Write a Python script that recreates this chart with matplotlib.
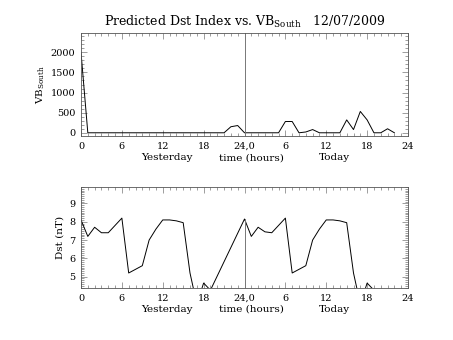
import matplotlib
matplotlib.use("Agg")
import matplotlib.pyplot as plt
import numpy as np

plt.rcParams['font.family'] = ['DejaVu Serif']
plt.rcParams['mathtext.fontset'] = 'dejavuserif'

# hours since start of yesterday (0..48)
vb_hours = list(range(0, 47))
vb_south = [2000, 0, 0, 0, 0, 0, 0, 0, 0, 0, 0, 0, 0, 0, 0, 0, 0, 0, 0, 0, 0, 0,
            150, 180, 0, 0, 0, 0, 0, 0, 280, 280, 0, 20, 80, 0, 0, 0, 0, 320,
            80, 530, 320, 0, 0, 100, 0]

dst_hours = list(range(0, 20)) + list(range(24, 44))
dst = [8.1, 7.2, 7.7, 7.4, 7.4, 7.8, 8.2, 5.2, 5.4, 5.6, 7.0, 7.6, 8.1, 8.1,
       8.05, 7.95, 5.2, 3.5, 4.65, 4.26,
       8.15, 7.2, 7.7, 7.45, 7.4, 7.8, 8.2, 5.2, 5.4, 5.6, 7.0, 7.6, 8.1, 8.1,
       8.05, 7.95, 5.2, 3.5, 4.65, 4.26]

xtick_pos = [0, 6, 12, 18, 24, 30, 36, 42, 48]
xtick_labels = ['0', '6', '12', '18', '24,0', '6', '12', '18', '24']
day_labels = ['Yesterday', 'time (hours)', 'Today']
day_pos = [12.6, 25.0, 37.2]

W, H = 453, 340
fig = plt.figure(figsize=(W / 100, H / 100), dpi=100)


def px_axes(left, top, right, bottom):
    return fig.add_axes([left / W, 1 - bottom / H, (right - left) / W, (bottom - top) / H])


def style(ax, ymajor, yminor):
    ax.set_xlim(0, 48)
    ax.set_xticks(xtick_pos)
    ax.set_xticklabels(xtick_labels)
    ax.set_xticks(np.arange(0, 49, 1), minor=True)
    ax.set_yticks(ymajor)
    ax.set_yticks(yminor, minor=True)
    ax.tick_params(which='both', direction='in', top=True, right=True,
                   labelsize=7, width=0.5, color='#777777', pad=4)
    ax.tick_params(which='major', length=4)
    ax.tick_params(which='minor', length=2)
    for s in ax.spines.values():
        s.set_linewidth(0.6)
        s.set_color('#555555')
    for x, t in zip(day_pos, day_labels):
        ax.text(x, -0.21, t, transform=ax.get_xaxis_transform(), ha='center',
                va='center', fontsize=7.5)


ax1 = px_axes(81, 33, 408, 136)
ax1.plot(vb_hours, vb_south, color='black', lw=0.7)
ax1.set_ylim(-80, 2480)
ax1.axvline(24, color='#777777', lw=0.7)
style(ax1, [0, 500, 1000, 1500, 2000], np.arange(0, 2401, 100))
ax1.set_ylabel(r'VB$_{\mathrm{South}}$', fontsize=7.5, labelpad=3)
ax1.set_title(r'Predicted Dst Index vs. VB$_{\mathrm{South}}$   12/07/2009',
              fontsize=9, pad=5)

ax2 = px_axes(81, 187, 408, 288)
ax2.plot(dst_hours, dst, color='black', lw=0.7)
ax2.set_ylim(4.38, 9.9)
ax2.plot([24, 24], [4.38, 8.15], color='#777777', lw=0.7)
style(ax2, [5, 6, 7, 8, 9], np.arange(4.4, 9.91, 0.1))
ax2.set_ylabel('Dst (nT)', fontsize=7.5, labelpad=3)

fig.savefig('out.png', dpi=100)
